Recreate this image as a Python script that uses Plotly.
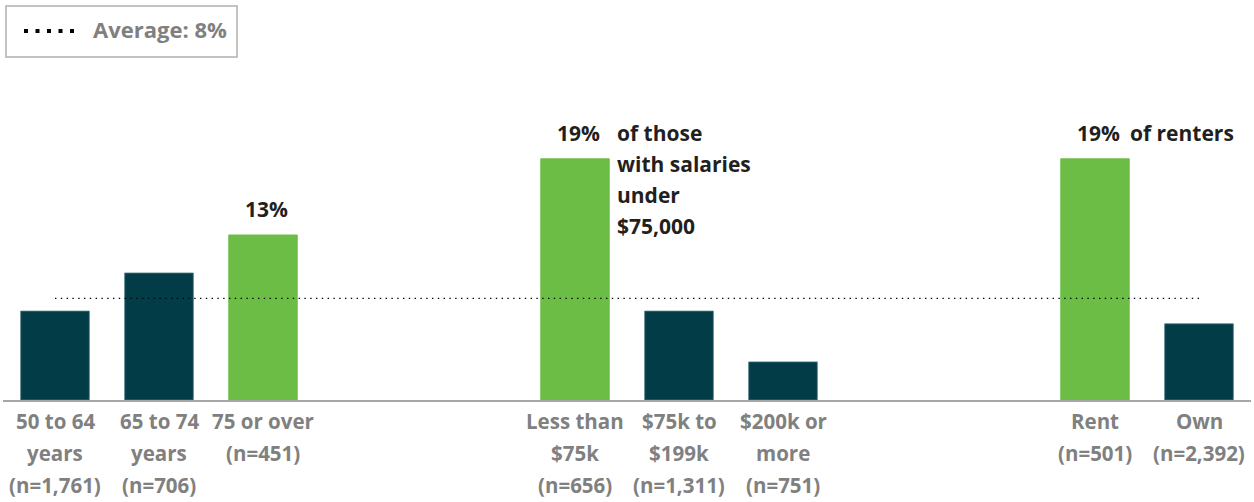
import plotly.graph_objects as go

# ---- data ----
groups = [
    ["50 to 64<br>years<br>(n=1,761)", "65 to 74<br>years<br>(n=706)", "75 or over<br>(n=451)"],
    ["Less than<br>$75k<br>(n=656)", "$75k to<br>$199k<br>(n=1,311)", "$200k or<br>more<br>(n=751)"],
    ["Rent<br>(n=501)", "Own<br>(n=2,392)"],
]
values = [7, 10, 13, 19, 7, 3, 19, 6]
highlight = [False, False, True, True, False, False, True, False]
average = 8
average_label = "Average: 8%"
callouts = {3: "of those<br>with salaries<br>under<br>$75,000", 6: "of renters"}
callout_offsets = {3: 40, 6: 33}

GREEN = "#6cbd45"
DARK = "#023d47"
GRAY = "#808080"
TEXT = "#231f20"
FONT = "Open Sans"

# positions: groups separated by two empty slots
categories, positions = [], []
p = 0
for g in groups:
    for c in g:
        categories.append(c)
        positions.append(p)
        p += 1
    p += 2
n_slots = positions[-1] + 1

W, H = 1254, 502
ml, mr, mt, mb = 3, 3, 146, 102
ymax = 20
pw, ph = W - ml - mr, H - mt - mb

def px_x(px):
    return (px - ml) / pw

def px_y(py):
    return (H - mb - py) / ph

fig = go.Figure()
fig.add_trace(go.Bar(
    x=positions, y=values,
    marker=dict(color=[GREEN if h else DARK for h in highlight],
                line=dict(color=[GREEN if h else "#4d7a80" for h in highlight], width=0.8)),
    width=0.66, hoverinfo="skip", showlegend=False,
))
fig.add_trace(go.Scatter(
    x=[positions[0], positions[-1]], y=[average, average], mode="lines",
    line=dict(color="#000000", width=1.4, dash="1.4px,4.4px"),
    hoverinfo="skip", showlegend=False,
))

ann = []
# category labels, one annotation per line
for x, lab in zip(positions, categories):
    for j, line in enumerate(lab.split("<br>")):
        ann.append(dict(x=x, y=0, xref="x", yref="y", text=line, showarrow=False,
                        xanchor="center", yanchor="middle", yshift=-(20.5 + 32 * j),
                        font=dict(family=FONT, size=20.5, color=GRAY, weight=700)))
# value labels on highlighted bars
for i, (x, v, h) in enumerate(zip(positions, values, highlight)):
    if not h:
        continue
    ann.append(dict(x=x, y=v, xref="x", yref="y", text=f"{v}%", showarrow=False,
                    xanchor="center", yanchor="middle", yshift=26, xshift=3,
                    font=dict(family=FONT, size=21, color=TEXT, weight=700)))
    if i in callouts:
        for j, line in enumerate(callouts[i].split("<br>")):
            ann.append(dict(x=x, y=v, xref="x", yref="y", text=line, showarrow=False,
                            xanchor="left", yanchor="middle", yshift=26 - 31 * j,
                            xshift=callout_offsets[i],
                            font=dict(family=FONT, size=21, color=TEXT, weight=700)))
# legend text
ann.append(dict(x=px_x(91), y=px_y(29), xref="paper", yref="paper", text=average_label,
                showarrow=False, xanchor="left", yanchor="middle",
                font=dict(family=FONT, size=22, color=GRAY, weight=700)))

shapes = [
    dict(type="rect", xref="paper", yref="paper", x0=px_x(6), x1=px_x(237), y0=px_y(6), y1=px_y(57),
         line=dict(color="#b0b0b0", width=1.5), fillcolor="rgba(0,0,0,0)"),
    dict(type="line", xref="paper", yref="paper", x0=px_x(24), x1=px_x(76), y0=px_y(31), y1=px_y(31),
         line=dict(color="#000000", width=4, dash="4px,7.5px")),
]

fig.update_layout(
    width=W, height=H,
    margin=dict(l=ml, r=mr, t=mt, b=mb, pad=0),
    plot_bgcolor="white", paper_bgcolor="white",
    bargap=0.34,
    xaxis=dict(range=[-0.5, n_slots - 0.5], showticklabels=False, showgrid=False, zeroline=False,
               showline=True, linecolor="#a6a6a6", linewidth=2, ticks=""),
    yaxis=dict(range=[0, ymax], visible=False, showgrid=False, zeroline=False),
    annotations=ann, shapes=shapes,
    font=dict(family=FONT),
)
fig.write_html("out.html", config={"displayModeBar": False},
               post_script="document.body.style.margin='0';")
